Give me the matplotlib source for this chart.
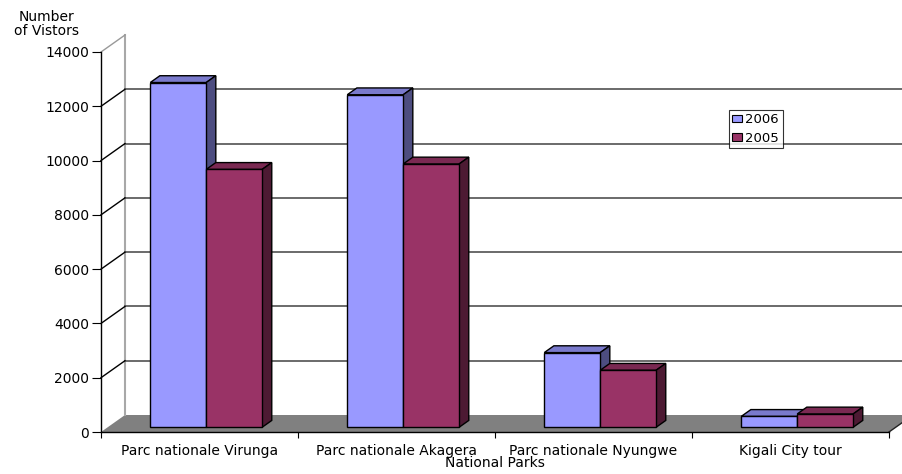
import matplotlib
matplotlib.use("Agg")
import matplotlib.pyplot as plt
from matplotlib.patches import Polygon, Patch
from matplotlib.lines import Line2D
from matplotlib.transforms import IdentityTransform
import numpy as np

# visitors per park
parks = ["Parc nationale Virunga", "Parc nationale Akagera", "Parc nationale Nyungwe", "Kigali City tour"]
visitors_2006 = [12700, 12250, 2750, 400]
visitors_2005 = [9500, 9700, 2100, 490]
years = ["2006", "2005"]
y_ticks = list(range(0, 14001, 2000))

# front / top / side shades for each series
shades = {
    "2006": ("#9999ff", "#7a7acc", "#4d4d80"),
    "2005": ("#993366", "#7a2952", "#4d1a33"),
}

DX, DY = 24, 17          # pixel offset of the back wall
D0, D1 = 0.28, 0.68      # depth span of the bars
BAR_W = 0.284

fig = plt.figure(figsize=(9.02, 4.74), dpi=100)
ax = fig.add_axes([101 / 902, 42 / 474, 788 / 902, 380 / 474])
ax.set_xlim(-0.5, 3.5)
ax.set_ylim(0, 14000)
ax.patch.set_visible(False)

ident = IdentityTransform()


def pt(x, v, d):
    px, py = ax.transData.transform((x, v))
    return (px + DX * d, py + DY * d)


def face(points, color, z, ec="black", lw=1.0):
    ax.add_patch(Polygon(points, closed=True, facecolor=color, edgecolor=ec,
                         linewidth=lw, transform=ident, clip_on=False, zorder=z))


def line(p, q, color, lw=1.0, z=0.7):
    ax.add_line(Line2D([p[0], q[0]], [p[1], q[1]], color=color, linewidth=lw,
                       transform=ident, clip_on=False, zorder=z))


# floor
face([pt(-0.5, 0, 0), pt(3.5, 0, 0), pt(3.5, 0, 1), pt(-0.5, 0, 1)], "#808080", 0.5, ec="none")
line(pt(3.5, 0, 0), pt(3.5, 0, 1), "#222222", 1.0)

# back wall and side wall grid
line(pt(-0.5, 0, 1), pt(-0.5, 14000, 1), "#a8a8a8", 1.5, 0.6)
for v in y_ticks[1:-1]:
    line(pt(-0.5, v, 1), pt(3.5, v, 1), "#6a6a6a", 1.4, 0.6)
for v in y_ticks[1:]:
    line(pt(-0.5, v, 0), pt(-0.5, v, 1), "#999999" if v == y_ticks[-1] else "black", 1.0, 0.7)


def bar3d(x0, x1, v, year, z):
    front, top, side = shades[year]
    face([pt(x0, v, D0), pt(x1, v, D0), pt(x1, v, D1), pt(x0, v, D1)], top, z)
    face([pt(x1, 0, D0), pt(x1, 0, D1), pt(x1, v, D1), pt(x1, v, D0)], side, z)
    face([pt(x0, 0, D0), pt(x1, 0, D0), pt(x1, v, D0), pt(x0, v, D0)], front, z)


for i in range(len(parks)):
    bar3d(i - BAR_W, i, visitors_2006[i], "2006", 1 + i * 0.1)
    bar3d(i, i + BAR_W, visitors_2005[i], "2005", 1.05 + i * 0.1)

# axes
for s in ["top", "right"]:
    ax.spines[s].set_visible(False)
for s in ["left", "bottom"]:
    ax.spines[s].set_linewidth(1.0)
ax.set_yticks(y_ticks)
ax.tick_params(axis="y", direction="out", length=6.5, width=0.8, pad=2, labelsize=10)
ax.set_xticks(range(len(parks)))
ax.set_xticklabels(parks)
ax.set_xticks(np.arange(-0.5, 3.6, 1), minor=True)
ax.tick_params(axis="x", which="major", length=0, pad=8.5, labelsize=10)
ax.tick_params(axis="x", which="minor", direction="out", length=4.5, width=0.8)
ax.set_xlabel("National Parks", fontsize=10, labelpad=-1)

fig.text(47 / 902, 1 - 24 / 474, "Number\nof Vistors", ha="center", va="center",
         fontsize=10, linespacing=1.05)

handles = [Patch(facecolor=shades[y][0], edgecolor="black", linewidth=0.8) for y in years]
leg = fig.legend(handles, years, loc="upper left", bbox_to_anchor=(729 / 902, 1 - 110 / 474),
                 frameon=True, fancybox=False, edgecolor="black", fontsize=9.5,
                 borderpad=0.25, handlelength=0.7, handleheight=0.5, handletextpad=0.3,
                 labelspacing=0.4, borderaxespad=0)
leg.get_frame().set_linewidth(0.8)

fig.savefig("out.png", dpi=100)
